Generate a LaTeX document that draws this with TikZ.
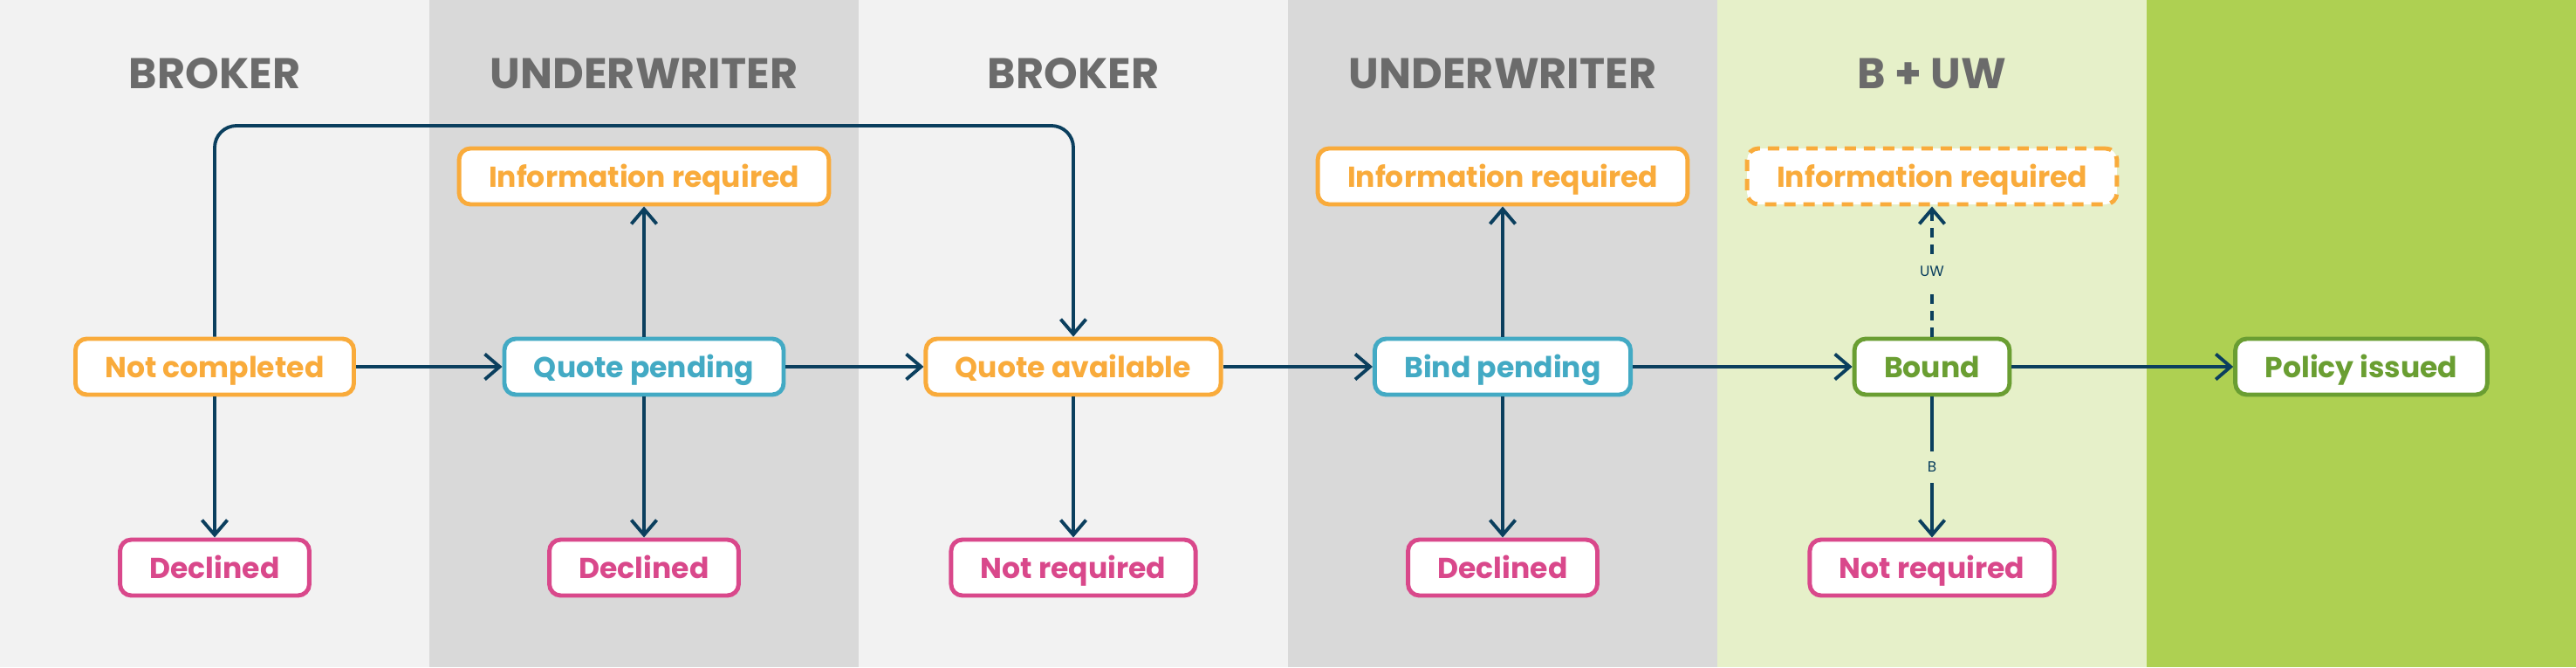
\documentclass[tikz,border=0pt]{standalone}
\usepackage{fontspec}
\setmainfont{Poppins}
\usetikzlibrary{arrows.meta,positioning}

\definecolor{bgA}{HTML}{F2F2F2}
\definecolor{bgB}{HTML}{D9D9D9}
\definecolor{bgC}{HTML}{E6F0C9}
\definecolor{bgD}{HTML}{AED052}
\definecolor{hdr}{HTML}{6B6B6B}
\definecolor{stOrange}{HTML}{F9AB3B}
\definecolor{stBlue}{HTML}{43AAC4}
\definecolor{stPink}{HTML}{D9488B}
\definecolor{stGreen}{HTML}{6A9E32}
\definecolor{navy}{HTML}{0B3F5E}

\tikzset{
  stbox/.style={draw=#1, text=#1, line width=1.4pt, rounded corners=0.13cm, fill=white,
    minimum height=0.64cm, inner xsep=0.34cm, inner ysep=0pt, text height=0.7em, text depth=0pt,
    font=\bfseries\fontsize{9.4}{11}\selectfont},
  flow/.style={navy, line width=1.1pt, -{Straight Barb[length=1.7mm,width=2.9mm,line width=1.1pt]}},
  lbl/.style={fill=bgC, text=navy, inner xsep=1pt, inner ysep=0.12cm, font=\fontsize{4.8}{5}\selectfont}
}

\begin{document}
\begin{tikzpicture}

\useasboundingbox (0,0) rectangle (29.52,7.64);

% Oszlopok hattere
\foreach \cc/\ii in {bgA/0,bgB/1,bgA/2,bgB/3,bgC/4,bgD/5}{
\fill[\cc] (\ii*4.92,0) rectangle ++(4.92,7.64);
}

% Oszlop feliratok
\foreach \xx/\tt in {2.46/BROKER,7.38/UNDERWRITER,12.30/BROKER,17.22/UNDERWRITER,22.14/B + UW}{
\node[text=hdr, font=\bfseries\fontsize{14}{16}\selectfont] at (\xx,6.80) {\tt};
}

% Fo sor
\node[stbox=stOrange] (nc) at (2.46,3.44) {Not completed};
\node[stbox=stBlue] (qp) at (7.38,3.44) {Quote pending};
\node[stbox=stOrange] (qa) at (12.30,3.44) {Quote available};
\node[stbox=stBlue] (bp) at (17.22,3.44) {Bind pending};
\node[stbox=stGreen] (bo) at (22.14,3.44) {Bound};
\node[stbox=stGreen] (pi) at (27.06,3.44) {Policy issued};

% Felso sor
\node[stbox=stOrange] (ir2) at (7.38,5.62) {Information required};
\node[stbox=stOrange] (ir4) at (17.22,5.62) {Information required};
\node[stbox=stOrange, dash pattern=on 0.13cm off 0.09cm] (ir5) at (22.14,5.62) {Information required};

% Also sor
\node[stbox=stPink] (dc1) at (2.46,1.14) {Declined};
\node[stbox=stPink] (dc2) at (7.38,1.14) {Declined};
\node[stbox=stPink] (nr3) at (12.30,1.14) {Not required};
\node[stbox=stPink] (dc4) at (17.22,1.14) {Declined};
\node[stbox=stPink] (nr5) at (22.14,1.14) {Not required};

% Vizszintes nyilak
\draw[flow] (nc) -- (qp);
\draw[flow] (qp) -- (qa);
\draw[flow] (qa) -- (bp);
\draw[flow] (bp) -- (bo);
\draw[flow] (bo) -- (pi);

% Visszacsatolas
\coordinate (lp) at (0,6.20);
\draw[flow, rounded corners=0.25cm] (nc.north) |- (lp -| qa.north) -- (qa.north);

% Fuggoleges nyilak
\draw[flow] (nc) -- (dc1);
\draw[flow] (qp) -- (ir2);
\draw[flow] (qp) -- (dc2);
\draw[flow] (qa) -- (nr3);
\draw[flow] (bp) -- (ir4);
\draw[flow] (bp) -- (dc4);
\draw[flow, dash pattern=on 0.11cm off 0.08cm] (bo) -- node[lbl]{UW} (ir5);
\draw[flow] (bo) -- node[lbl]{B} (nr5);

\end{tikzpicture}
\end{document}
